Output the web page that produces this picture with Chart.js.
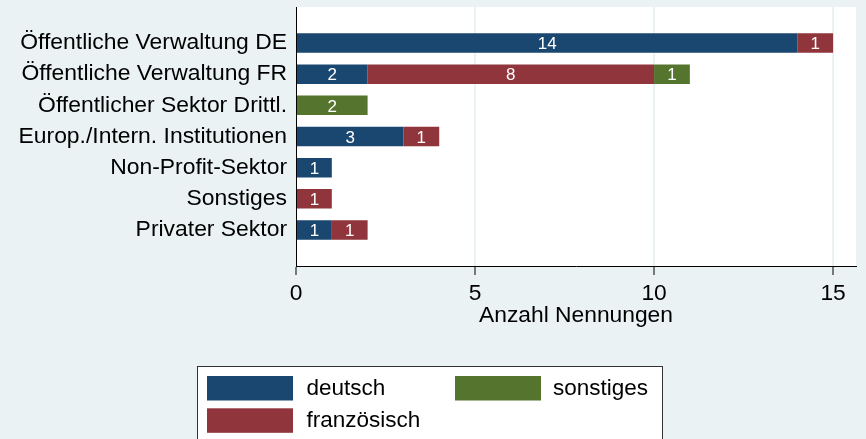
<!DOCTYPE html>
<html><head><meta charset="utf-8">
<script src="https://cdn.jsdelivr.net/npm/chart.js@4.4.1/dist/chart.umd.min.js"></script>
<style>html,body{margin:0;padding:0;background:#eaf2f3;}canvas{display:block;}</style>
</head><body>
<canvas id="c" width="866" height="439"></canvas>
<script>
const categories = [
  'Öffentliche Verwaltung DE',
  'Öffentliche Verwaltung FR',
  'Öffentlicher Sektor Drittl.',
  'Europ./Intern. Institutionen',
  'Non-Profit-Sektor',
  'Sonstiges',
  'Privater Sektor'
];
const seriesNames = ['deutsch', 'französisch', 'sonstiges'];
const deutsch      = [14, 2, 0, 3, 1, 0, 1];
const franzoesisch = [1, 8, 0, 1, 0, 1, 1];
const sonstiges    = [0, 1, 2, 0, 0, 0, 0];
const xTicks = [0, 5, 10, 15];
const xTitle = 'Anzahl Nennungen';

const seriesValues = [deutsch, franzoesisch, sonstiges];
const colors = ['#1a476f', '#90353b', '#55752f'];
const FONT = 'Liberation Sans, Arial, sans-serif';
const xFont = {family: FONT, size: 22.8};
const yFont = {family: FONT, size: 22.9};

const datasets = seriesValues.map((vals, di) => ({
  label: seriesNames[di],
  data: vals.map((v, i) => ({x: v === 0 ? null : v, y: i})),
  backgroundColor: colors[di],
  borderWidth: 0
}));

const bgPlugin = {
  id: 'bg',
  beforeDraw(chart) {
    const {ctx, chartArea: a, width, height} = chart;
    ctx.save();
    ctx.fillStyle = '#eaf2f3';
    ctx.fillRect(0, 0, width, height);
    ctx.fillStyle = '#ffffff';
    ctx.fillRect(a.left, a.top, a.right - a.left, a.bottom - a.top);
    ctx.restore();
  }
};

const valueLabels = {
  id: 'valueLabels',
  afterDatasetsDraw(chart) {
    const ctx = chart.ctx;
    ctx.save();
    ctx.fillStyle = '#ffffff';
    ctx.font = '17px ' + FONT;
    ctx.textAlign = 'center';
    ctx.textBaseline = 'middle';
    chart.data.datasets.forEach((ds, di) => {
      const meta = chart.getDatasetMeta(di);
      meta.data.forEach((el, i) => {
        const v = seriesValues[di][i];
        if (!v) return;
        const p = el.getCenterPoint();
        ctx.fillText(String(v), p.x, p.y + 1.5);
      });
    });
    ctx.restore();
  }
};

const legendBox = {
  id: 'legendBox',
  afterDraw(chart) {
    const ctx = chart.ctx;
    ctx.save();
    ctx.fillStyle = '#ffffff';
    ctx.fillRect(197.5, 366.5, 465, 80);
    ctx.strokeStyle = '#333333';
    ctx.lineWidth = 1;
    ctx.strokeRect(197.5, 366.5, 465, 80);
    const items = [
      {i: 0, sx: 207, sy: 376, tx: 306.5},
      {i: 1, sx: 207, sy: 408.3, tx: 306.5},
      {i: 2, sx: 455, sy: 376, tx: 553}
    ];
    ctx.font = '22.5px ' + FONT;
    ctx.textAlign = 'left';
    ctx.textBaseline = 'middle';
    items.forEach(it => {
      const ds = chart.data.datasets[it.i];
      ctx.fillStyle = ds.backgroundColor;
      ctx.fillRect(it.sx, it.sy, 86, 24.5);
      ctx.fillStyle = '#000000';
      ctx.fillText(ds.label, it.tx, it.sy + 12.5);
    });
    ctx.restore();
  }
};

new Chart(document.getElementById('c'), {
  type: 'bar',
  data: {datasets},
  plugins: [bgPlugin, valueLabels, legendBox],
  options: {
    indexAxis: 'y',
    responsive: false,
    animation: false,
    layout: {padding: {top: 7, right: 10, left: 0, bottom: 0}},
    plugins: {legend: {display: false}, tooltip: {enabled: false}},
    datasets: {bar: {categoryPercentage: 1, barPercentage: 0.625}},
    scales: {
      x: {
        type: 'linear', stacked: true, min: 0, max: 15.64, offset: false,
        afterBuildTicks: s => { s.ticks = xTicks.map(v => ({value: v})); },
        afterFit: s => { s.height = 173; },
        grid: {color: '#eaf2f3', lineWidth: 2, tickColor: '#000', tickLength: 9, tickWidth: 1, offset: false},
        border: {display: true, color: '#000', width: 1},
        ticks: {color: '#000', font: xFont, padding: 5, maxRotation: 0, autoSkip: false},
        title: {display: true, text: xTitle, color: '#000', font: xFont, padding: {top: 0, bottom: 110}}
      },
      y: {
        type: 'linear', stacked: true, reverse: true, min: -1.154, max: 7.154, offset: false,
        afterBuildTicks: s => { s.ticks = categories.map((_, i) => ({value: i})); },
        afterFit: s => { s.width = 296; s.paddingTop = 0; s.paddingBottom = 0; },
        grid: {display: false, drawTicks: false, offset: false},
        border: {display: true, color: '#000', width: 1},
        ticks: {color: '#000', font: yFont, padding: 9, autoSkip: false,
          callback: v => categories[v] !== undefined ? categories[v] : ''}
      }
    }
  }
});
</script>
</body></html>
